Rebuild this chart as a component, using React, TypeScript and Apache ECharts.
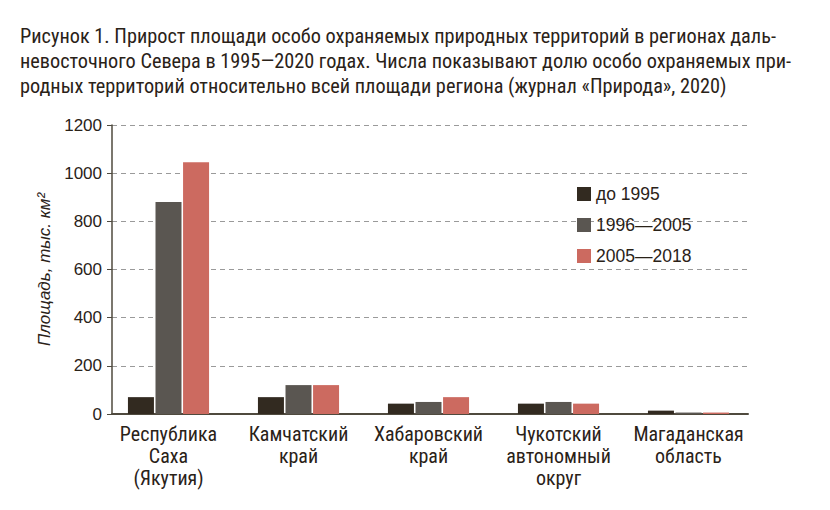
import React, { useEffect, useRef } from "react";
import * as echarts from "echarts";

const titleLines = [
  "Рисунок 1. Прирост площади особо охраняемых природных территорий в регионах даль-",
  "невосточного Севера в 1995—2020 годах. Числа показывают долю особо охраняемых при-",
  "родных территорий относительно всей площади региона (журнал «Природа», 2020)",
];
const categories = [
  "Республика\nСаха\n(Якутия)",
  "Камчатский\nкрай",
  "Хабаровский\nкрай",
  "Чукотский\nавтономный\nокруг",
  "Магаданская\nобласть",
];
const seriesNames = ["до 1995", "1996—2005", "2005—2018"];
const before1995 = [70, 70, 43, 43, 14];
const p1996_2005 = [880, 120, 50, 50, 6];
const p2005_2018 = [1045, 120, 70, 43, 6];
const colors = ["#322a20", "#5a5651", "#cc6a60"];
const yMax = 1200;
const yInterval = 200;

export default function App() {
  const ref = useRef<HTMLDivElement>(null);
  useEffect(() => {
    if (!ref.current) return;
    const chart = echarts.init(ref.current, null, { renderer: "svg" });
    const condensed = "'Liberation Sans Narrow', 'Roboto Condensed', 'Liberation Sans', sans-serif";
    const axisColor = "#4f4a3e";
    const data = [before1995, p1996_2005, p2005_2018];
    chart.setOption({
      animation: false,
      backgroundColor: "#ffffff",
      title: {
        text: titleLines.join("\n"),
        left: 15,
        top: 18,
        textStyle: {
          fontFamily: condensed,
          fontSize: 20.3,
          fontWeight: "normal",
          color: "#2a2218",
          lineHeight: 25,
        },
      },
      legend: {
        orient: "vertical",
        left: 572,
        top: 180,
        itemWidth: 14,
        itemHeight: 14,
        itemGap: 13,
        icon: "rect",
        textStyle: {
          fontFamily: "'Liberation Sans', Arial, sans-serif",
          fontSize: 17.5,
          color: "#2a2218",
        },
        data: seriesNames,
      },
      grid: [
        { left: 112, right: 82, top: 125, bottom: 96, containLabel: false },
        { left: 103.5, right: 76.5, top: 125, bottom: 96, containLabel: false },
      ],
      xAxis: [
        {
          type: "value",
          gridIndex: 0,
          min: 0,
          max: 1,
          axisLine: { show: true, onZero: false, lineStyle: { color: axisColor, width: 2 } },
          axisTick: { show: false },
          axisLabel: { show: false },
          splitLine: { show: false },
        },
        {
          type: "category",
          gridIndex: 1,
          data: categories,
          axisLine: { show: false },
          axisTick: { show: false },
          axisLabel: {
            interval: 0,
            margin: 9,
            fontFamily: condensed,
            fontSize: 20,
            lineHeight: 22,
            color: "#2a2218",
          },
        },
      ],
      yAxis: [
        {
          type: "value",
          gridIndex: 0,
          min: 0,
          max: yMax,
          interval: yInterval,
          name: "Площадь, тыс. км²",
          nameLocation: "middle",
          nameGap: 59,
          nameTextStyle: {
            fontFamily: "'Liberation Sans', Arial, sans-serif",
            fontStyle: "italic",
            fontSize: 17,
            color: "#2a2218",
          },
          axisLine: { show: true, lineStyle: { color: axisColor, width: 1.5 } },
          axisTick: { show: true, length: 5, lineStyle: { color: axisColor } },
          axisLabel: {
            margin: 10,
            formatter: (v: number) => String(v),
            fontFamily: "'Liberation Sans', Arial, sans-serif",
            fontSize: 17,
            color: "#2a2218",
          },
          splitLine: {
            show: true,
            lineStyle: { color: "#9a9a9a", type: [5, 4], width: 1 },
          },
        },
        {
          type: "value",
          gridIndex: 1,
          min: 0,
          max: yMax,
          show: false,
          splitLine: { show: false },
        },
      ],
      series: seriesNames.map((name, i) => ({
        name,
        type: "bar",
        xAxisIndex: 1,
        yAxisIndex: 1,
        data: data[i],
        barWidth: 26,
        barGap: "6%",
        itemStyle: { color: colors[i] },
      })),
    });
    return () => chart.dispose();
  }, []);
  return <div ref={ref} style={{ width: 830, height: 510, margin: -8 }} />;
}
